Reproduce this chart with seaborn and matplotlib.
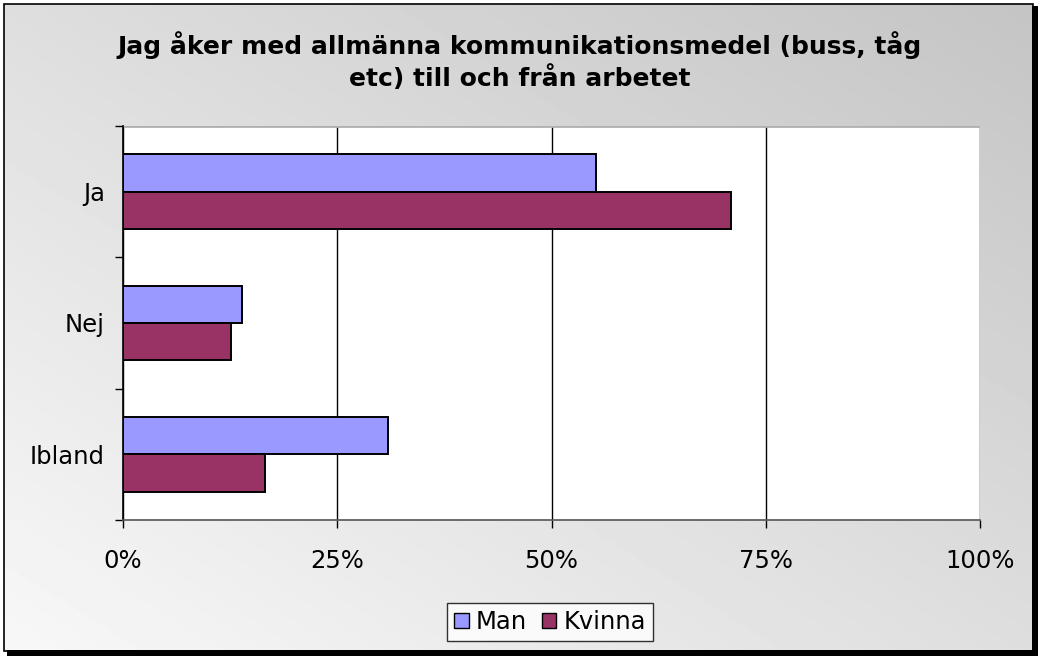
import numpy as np
import matplotlib
import matplotlib.pyplot as plt
plt.switch_backend('agg')
import pandas as pd
import seaborn as sns
from matplotlib.patches import Patch, Rectangle
from matplotlib.ticker import FuncFormatter

# data (percent)
svar = ["Ja", "Nej", "Ibland"]
man = [55.2, 13.9, 30.9]
kvinna = [70.9, 12.6, 16.6]
serier = ["Man", "Kvinna"]
farger = ["#9999FF", "#993366"]

df = pd.DataFrame({
    "svar": svar * 2,
    "andel": man + kvinna,
    "kon": [serier[0]] * 3 + [serier[1]] * 3,
})

sns.set_style("white")
plt.rcParams['font.family'] = ['DejaVu Sans']
plt.rcParams['text.color'] = 'black'
plt.rcParams['xtick.color'] = 'black'
plt.rcParams['ytick.color'] = 'black'

W, H = 1039, 657
fig = plt.figure(figsize=(W / 100, H / 100), dpi=100)

# gradient background
bg = fig.add_axes([0, 0, 1, 1], zorder=-5)
xx, yy = np.meshgrid(np.linspace(0, 1, 200), np.linspace(0, 1, 200))
grad = 0.97 - 0.2 * (0.5 * xx + 0.5 * yy)
bg.set_xlim(0, 1)
bg.set_ylim(0, 1)
bg.axis('off')
# frame + shadow
bg.add_patch(Rectangle((0, 0), 1, 1, transform=bg.transAxes,
                       facecolor='white', edgecolor='none', zorder=0))
bg.add_patch(Rectangle((7 / W, 1 - 656 / H), 1031 / W, 650 / H, transform=bg.transAxes,
                       facecolor='black', edgecolor='none', zorder=1))
bg.imshow(grad, cmap='gray', vmin=0, vmax=1,
          extent=[4 / W, 1032 / W, 1 - 650 / H, 1 - 4 / H],
          origin='lower', aspect='auto', zorder=1.5)
bg.add_patch(Rectangle((3.5 / W, 1 - 651 / H), 1029 / W, 647.5 / H, transform=bg.transAxes,
                       facecolor='none', edgecolor='black', linewidth=1.2, zorder=2))

ax = fig.add_axes([123 / W, 1 - 520 / H, 857 / W, 394 / H])
ax.set_facecolor('white')
sns.barplot(data=df, y="svar", x="andel", hue="kon", orient='h',
            palette=farger, saturation=1, width=0.57, edgecolor='black',
            linewidth=1.4, ax=ax, legend=False, zorder=3)

ax.set_xlim(0, 100)
ax.set_ylim(2.5, -0.5)
ax.set_xticks([0, 25, 50, 75, 100])
ax.xaxis.set_major_formatter(FuncFormatter(lambda v, p: f"{v:.0f}%"))
ax.set_yticks([0, 1, 2])
ax.set_yticks([-0.5, 0.5, 1.5, 2.5], minor=True)
ax.tick_params(axis='y', which='major', length=0, pad=13, labelsize=17.5)
ax.tick_params(axis='y', which='minor', length=6, width=1, color='black', left=True)
ax.tick_params(axis='x', which='major', length=6, width=1, color='black',
               bottom=True, pad=15, labelsize=17.5)
ax.grid(axis='x', color='black', linewidth=1, zorder=0)
ax.set_axisbelow(True)
ax.set_xlabel("")
ax.set_ylabel("")
for s in ['top', 'right']:
    ax.spines[s].set_visible(False)
ax.spines['left'].set_color('black')
ax.spines['left'].set_linewidth(1.2)
ax.spines['bottom'].set_color('#555555')
ax.spines['bottom'].set_linewidth(1.2)
ax.axhline(-0.5, color='#b0b0b0', linewidth=2, zorder=1)

fig.text(0.5, 1 - 61 / H,
         "Jag åker med allmänna kommunikationsmedel (buss, tåg\netc) till och från arbetet",
         ha='center', va='center', fontsize=18, fontweight='bold', linespacing=1.3)

handles = [Patch(facecolor=c, edgecolor='black', linewidth=1) for c in farger]
leg = fig.legend(handles, serier, loc='center', bbox_to_anchor=(550 / W, 1 - 622 / H),
                 ncol=2, fontsize=17.5, frameon=True, fancybox=False,
                 handlelength=0.6, handleheight=0.6, handletextpad=0.3,
                 columnspacing=0.6, borderpad=0.3, borderaxespad=0)
leg.get_frame().set_edgecolor('black')
leg.get_frame().set_facecolor('white')
leg.get_frame().set_linewidth(1)

fig.savefig("out.png", dpi=100)
